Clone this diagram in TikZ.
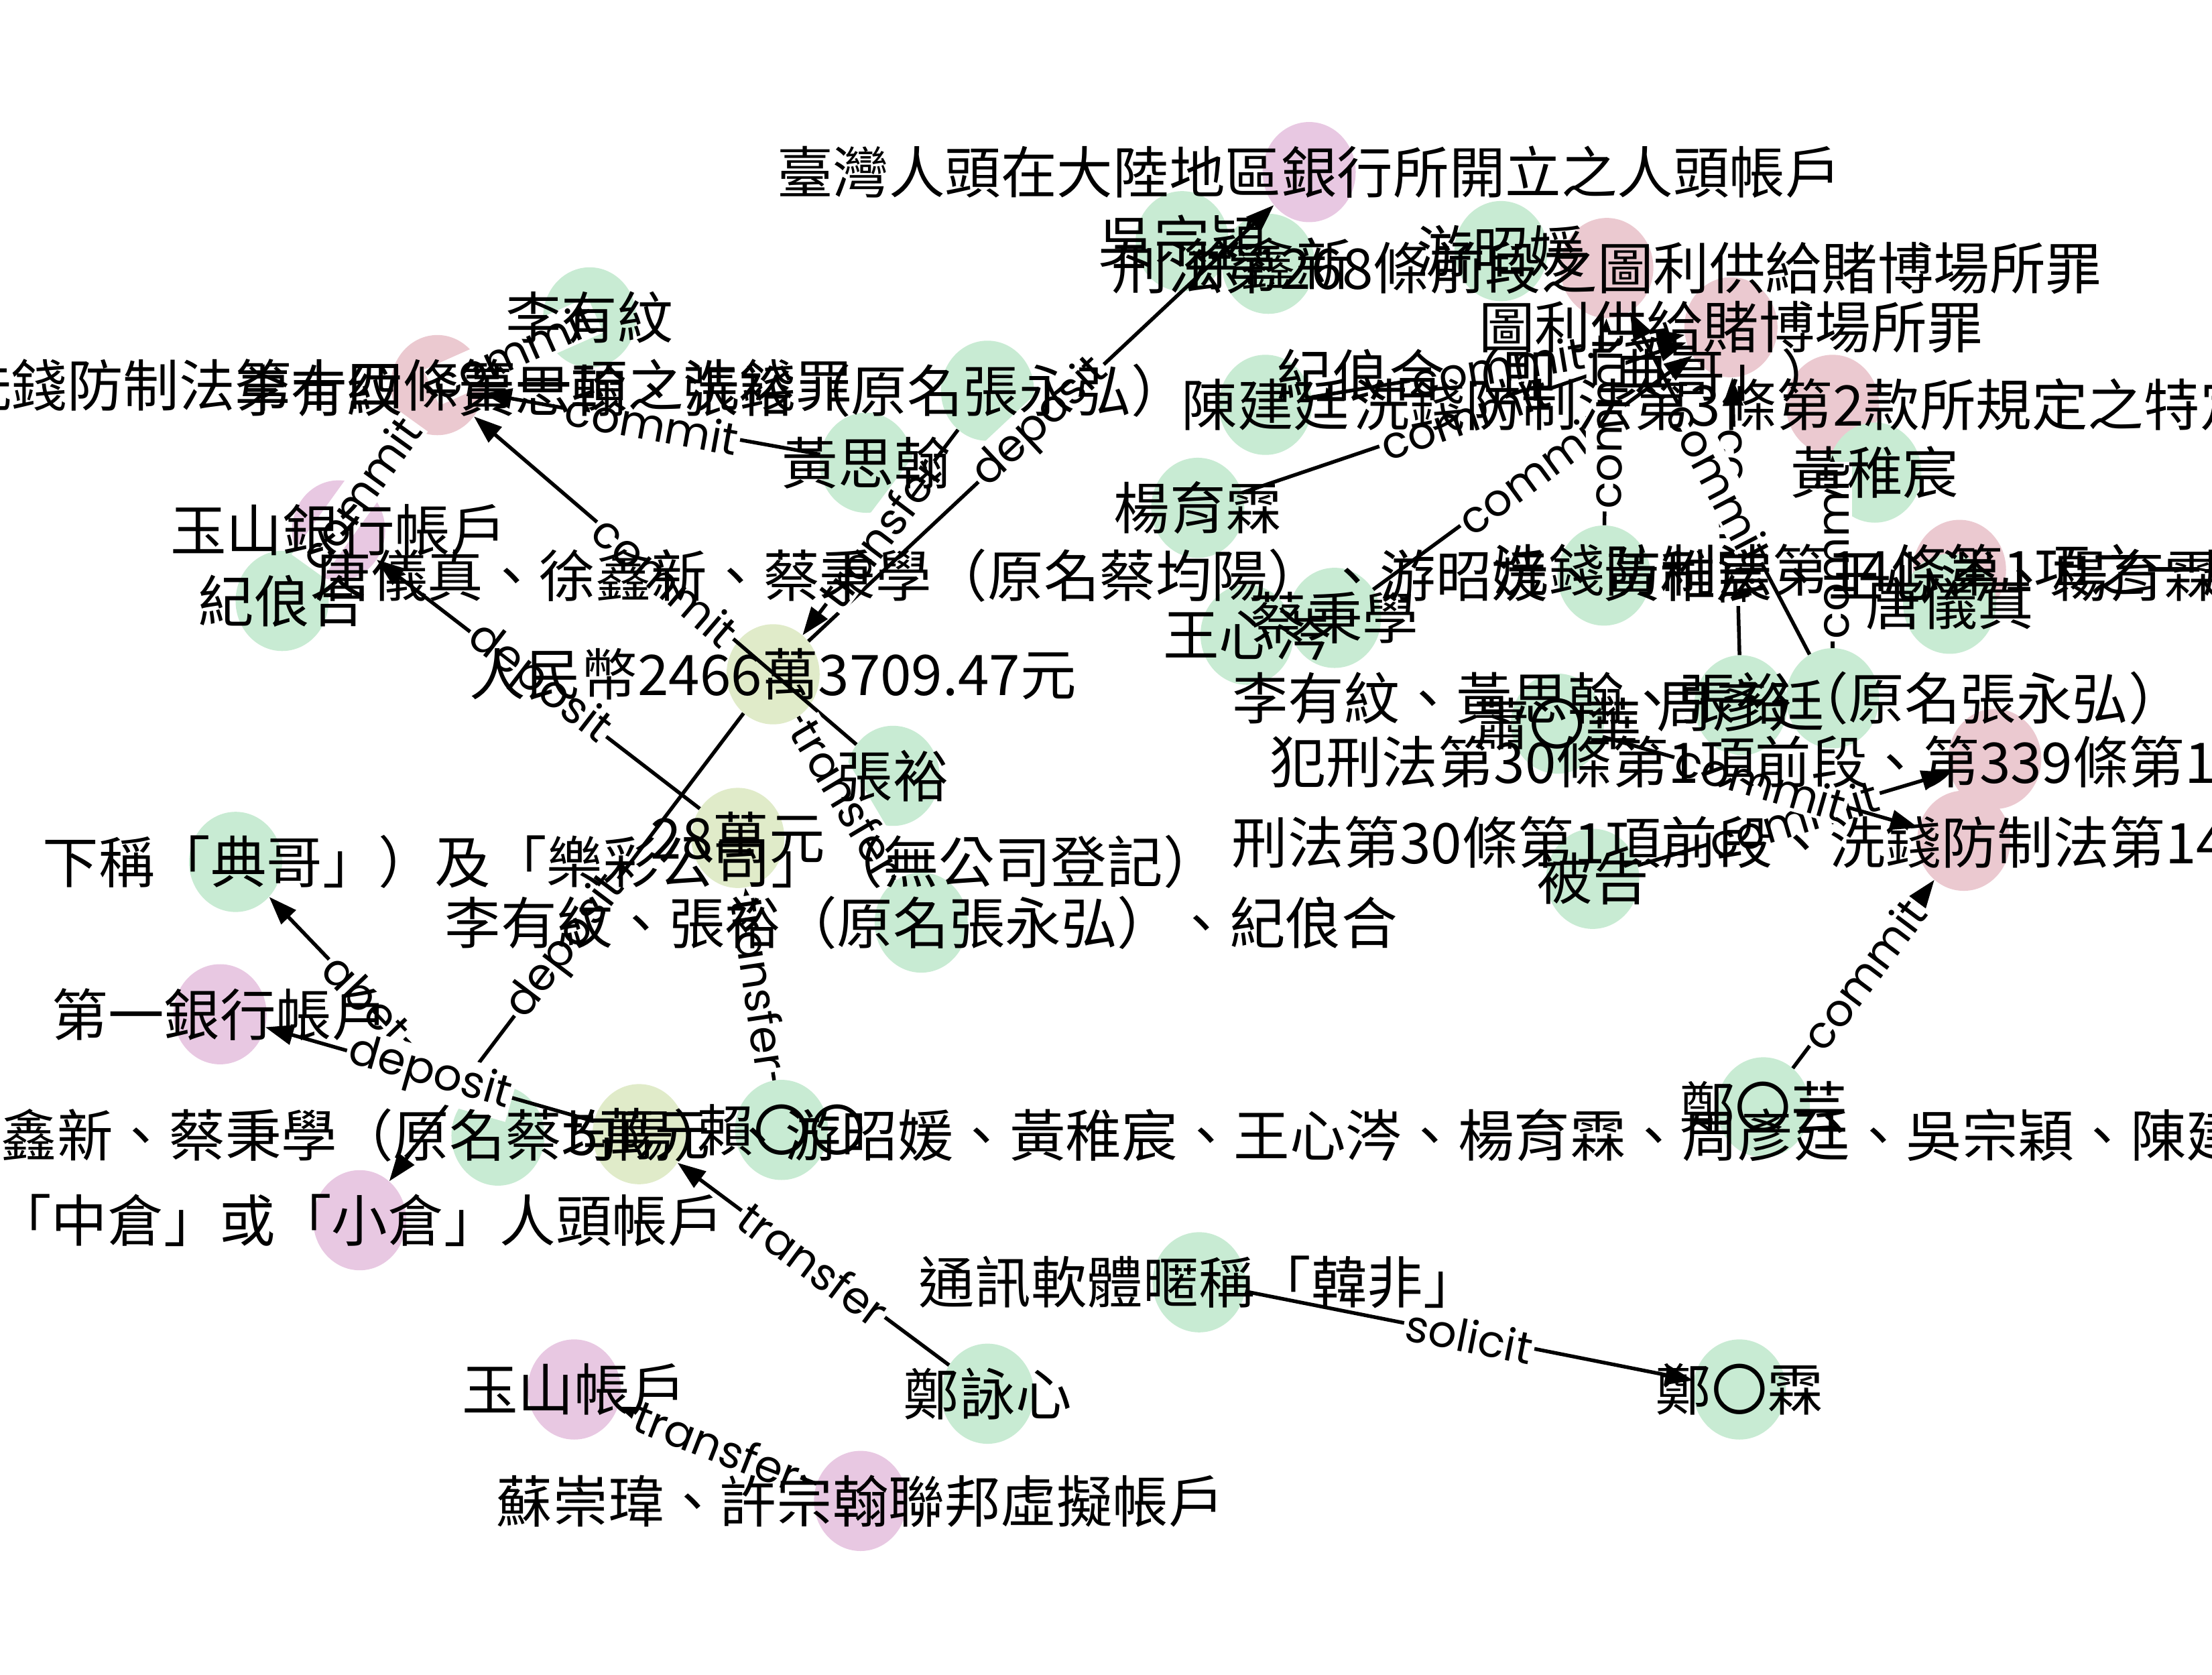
\documentclass[tikz,border=0pt]{standalone}
\usepackage{fontspec}
\setmainfont{Noto Sans CJK TC}
\newfontfamily\labfont{Poppins}
\usetikzlibrary{arrows.meta,shapes.geometric}
\definecolor{cgreen}{HTML}{C8EBD3}
\definecolor{cmauve}{HTML}{E8C8E2}
\definecolor{crose}{HTML}{EBC9D0}
\definecolor{cyel}{HTML}{E0EBC9}
\begin{document}
\begin{tikzpicture}[x=0.5mm,y=-0.5mm,
  dot/.style={ellipse,draw=none,minimum width=33mm,minimum height=35.5mm,inner sep=0},
  per/.style={dot,fill=cgreen},
  acc/.style={dot,fill=cmauve},
  law/.style={dot,fill=crose},
  mon/.style={dot,fill=cyel},
  txt/.style={font=\fontsize{56.5}{60}\selectfont,inner sep=0},
  ed/.style={line width=1.3mm,-{Triangle[length=10mm,width=7mm]}},
  el/.style={font=\labfont\fontsize{45}{48}\selectfont,fill=white,inner sep=0.8mm,sloped,midway}]
\useasboundingbox (0,0) rectangle (1568,1187);
\clip (0,0) rectangle (1568,1187);
% circles
\node[acc] (n1) at (928,122) {};
\node[per] (n2) at (838,171) {};
\node[per] (n3) at (899,187) {};
\node[per] (n4) at (1064,178) {};
\node[law] (n5) at (1139,190) {};
\node[law] (n6) at (1227,232) {};
\node[law] (n7) at (1299,287) {};
\node[per] (n8) at (897,287) {};
\node[per] (n9) at (418,225) {};
\node[law] (n10) at (310,273) {};
\node[per] (n11) at (700,277) {};
\node[per] (n12) at (614,328) {};
\node[acc] (n13) at (240,376) {};
\node[per] (n14) at (200,426) {};
\node[mon] (n15) at (548,478) {};
\node[per] (n16) at (849,360) {};
\node[per] (n17) at (1137,408) {};
\node[law] (n18) at (1389,404) {};
\node[per] (n19) at (1382,428) {};
\node[per] (n20) at (1329,335) {};
\node[per] (n21) at (946,438) {};
\node[per] (n22) at (884,450) {};
\node[per] (n23) at (1104,513) {};
\node[per] (n24) at (1234,500) {};
\node[per] (n25) at (1299,495) {};
\node[law] (n26) at (1414,538) {};
\node[law] (n27) at (1392,596) {};
\node[per] (n28) at (1129,623) {};
\node[per] (n29) at (1250,785) {};
\node[per] (n30) at (1233,985) {};
\node[per] (n31) at (850,909) {};
\node[per] (n32) at (700,988) {};
\node[acc] (n33) at (407,985) {};
\node[acc] (n34) at (610,1064) {};
\node[acc] (n35) at (255,865) {};
\node[acc] (n36) at (156,719) {};
\node[per] (n37) at (167,611) {};
\node[mon] (n38) at (523,594) {};
\node[per] (n39) at (633,550) {};
\node[per] (n40) at (653,654) {};
\node[per] (n41) at (353,805) {};
\node[mon] (n42) at (453,804) {};
\node[per] (n43) at (554,801) {};
% edges
\draw[ed] (n9) -- node[el]{commit} (n10);
\draw[ed] (n14) -- node[el]{commit} (n10);
\draw[ed] (n12) -- node[el]{commit} (n10);
\draw[ed] (n39) -- node[el]{commit} (n10);
\draw[ed] (n38) -- node[el]{deposit} (n13);
\draw[ed] (n15) -- node[el]{deposit} (n35);
\draw[ed] (n15) -- node[el]{deposit} (n1);
\draw[ed] (n11) -- node[el]{transfer} (n15);
\draw[ed] (n15) -- node[el]{transfer} (n40);
\draw[ed] (n43) -- node[el]{transfer} (n38);
\draw[ed] (n41) -- node[el]{abet} (n37);
\draw[ed] (n42) -- node[el]{deposit} (n36);
\draw[ed] (n32) -- node[el]{transfer} (n42);
\draw[ed] (n34) -- node[el]{transfer} (n33);
\draw[ed] (n31) -- node[el]{solicit} (n30);
\draw[ed] (n29) -- node[el]{commit} (n27);
\draw[ed] (n28) -- node[el]{commit} (n26);
\draw[ed] (n23) -- node[el]{commit} (n27);
\draw[ed] (n16) -- node[el]{commit} (n6);
\draw[ed] (n21) -- node[el]{commit} (n6);
\draw[ed] (n8) -- node[el]{commit} (n6);
\draw[ed] (n17) -- node[el]{commit} (n5);
\draw[ed] (n24) -- node[el]{commit} (n6);
\draw[ed] (n25) -- node[el]{commit} (n5);
\draw[ed] (n25) -- node[el]{commit} (n7);
% labels
\node[txt] (t1) at (n1) {臺灣人頭在大陸地區銀行所開立之人頭帳戶};
\node[txt] (t2) at (n2) {吳宗穎};
\node[txt] (t3) at (n3) {徐鑫新};
\node[txt] (t4) at (n4) {游昭媛};
\node[txt] (t5) at (n5) {刑法第268條前段之圖利供給賭博場所罪};
\node[txt] (t6) at (n6) {圖利供給賭博場所罪};
\node[txt] (t7) at ([xshift=10mm]n7) {洗錢防制法第3條第2款所規定之特定犯罪};
\node[txt] (t8) at (n8) {陳建廷};
\node[txt] (t9) at (n9) {李有紋};
\node[txt] (t10) at ([xshift=-12mm]n10) {洗錢防制法第十四條第一項之洗錢罪};
\node[txt] (t11) at ([xshift=-98mm]n11) {李有紋、黃思翰、張裕（原名張永弘）};
\node[txt] (t12) at (n12) {黃思翰};
\node[txt] (t13) at (n13) {玉山銀行帳戶};
\node[txt] (t14) at (n14) {紀俍合};
\node[txt] (t15) at (n15) {人民幣2466萬3709.47元};
\node[txt] (t16) at (n16) {楊育霖};
\node[txt] (t17) at (n17) {唐儀真、徐鑫新、蔡秉學（原名蔡均陽）、游昭媛、黃稚宸、王心涔、楊育霖、周彥廷、吳宗穎、陳建廷};
\node[txt] (t18) at (n18) {洗錢防制法第14條第1項之一般洗錢罪};
\node[txt] (t19) at (n19) {唐儀真};
\node[txt] (t20) at (n20) {黃稚宸};
\node[txt] (t21) at (n21) {蔡秉學};
\node[txt] (t22) at (n22) {王心涔};
\node[txt] (t23) at (n23) {蕭〇華};
\node[txt] (t24) at (n24) {周彥廷};
\node[txt] (t25) at ([xshift=-44mm]n25) {李有紋、黃思翰、張裕（原名張永弘）};
\node[txt,anchor=west] (t26) at (900,540) {犯刑法第30條第1項前段、第339條第1項};
\node[txt,anchor=west] (t27) at (873,597) {刑法第30條第1項前段、洗錢防制法第14條};
\node[txt] (t28) at (n28) {被告};
\node[txt] (t29) at (n29) {鄭〇芸};
\node[txt] (t30) at (n30) {鄭〇霖};
\node[txt] (t31) at (n31) {通訊軟體暱稱「韓非」};
\node[txt] (t32) at (n32) {鄭詠心};
\node[txt] (t33) at (n33) {玉山帳戶};
\node[txt] (t34) at (n34) {蘇崇瑋、許宗翰聯邦虛擬帳戶};
\node[txt] (t35) at (n35) {「中倉」或「小倉」人頭帳戶};
\node[txt] (t36) at (n36) {第一銀行帳戶};
\node[txt,anchor=west] (t37) at (30,611) {下稱「典哥」）及「樂彩公司」（無公司登記）};
\node[txt] (t38) at (n38) {28萬元};
\node[txt] (t39) at (n39) {張裕};
\node[txt] (t40) at (n40) {李有紋、張裕（原名張永弘）、紀俍合};
\node[txt,anchor=west] (t41) at (-39,805) {徐鑫新、蔡秉學（原名蔡均陽）、游昭媛、黃稚宸、王心涔、楊育霖、周彥廷、吳宗穎、陳建廷};
\node[txt] (t42) at (n42) {5萬元};
\node[txt] (t43) at (n43) {賴〇〇};
\node[txt,anchor=west] (t44) at (905,266) {紀俍合（即「典哥」）};
\end{tikzpicture}
\end{document}
